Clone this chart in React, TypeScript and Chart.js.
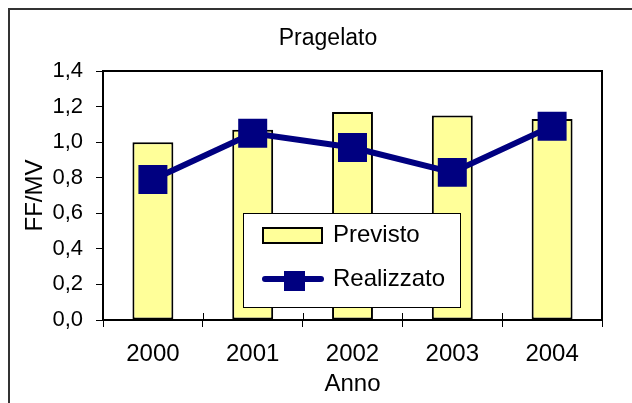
import React, { useEffect, useRef } from "react";
import { Chart, registerables } from "chart.js";

Chart.register(...registerables);

const categories = ["2000", "2001", "2002", "2003", "2004"];
const previsto = [1.0, 1.07, 1.17, 1.15, 1.13];
const realizzato = [0.79, 1.05, 0.97, 0.83, 1.09];
const yMin = 0;
const yMax = 1.4;
const yStep = 0.2;

const FONT = "'Liberation Sans', Arial, Helvetica, sans-serif";
const NAVY = "#000080";
const YELLOW = "#FFFF99";

const decorPlugin = {
  id: "decor",
  afterLayout(chart: any) {
    if (chart.titleBlock) {
      chart.titleBlock.left = 8;
      chart.titleBlock.right = 648;
    }
  },
  afterDraw(chart: any) {
    const ctx = chart.ctx;
    const ca = chart.chartArea;
    ctx.save();
    // outer chart border (extends beyond the window)
    ctx.strokeStyle = "#333";
    ctx.lineWidth = 2;
    ctx.strokeRect(9, 9, 700, 700);
    // plot frame top/right
    ctx.strokeStyle = "#000";
    ctx.lineWidth = 2;
    ctx.beginPath();
    ctx.moveTo(ca.left, ca.top);
    ctx.lineTo(ca.right, ca.top);
    ctx.lineTo(ca.right, ca.bottom);
    ctx.stroke();
    // inner half of x ticks (crossing marks)
    const n = chart.data.labels.length;
    const w = (ca.right - ca.left) / n;
    ctx.lineWidth = 1;
    ctx.beginPath();
    for (let i = 0; i <= n; i++) {
      const x = Math.round(ca.left + i * w) + 0.5;
      ctx.moveTo(x, ca.bottom - 7);
      ctx.lineTo(x, ca.bottom);
    }
    ctx.stroke();

    // legend
    const ds = chart.data.datasets;
    const barDs = ds.find((d: any) => d.type !== "line");
    const lineDs = ds.find((d: any) => d.type === "line");
    const lx = ca.left + 140;
    const ly = ca.top + 142;
    const lw = 217;
    const lh = 94;
    ctx.fillStyle = "#fff";
    ctx.fillRect(lx, ly, lw, lh);
    ctx.strokeStyle = "#000";
    ctx.lineWidth = 1;
    ctx.strokeRect(lx + 0.5, ly + 0.5, lw, lh);

    ctx.font = `24px ${FONT}`;
    ctx.textBaseline = "middle";
    ctx.textAlign = "left";
    // bar swatch
    ctx.fillStyle = barDs.backgroundColor;
    ctx.fillRect(lx + 20, ly + 15, 59, 15);
    ctx.lineWidth = 2;
    ctx.strokeStyle = "#000";
    ctx.strokeRect(lx + 20, ly + 15, 59, 15);
    ctx.fillStyle = "#000";
    ctx.fillText(barDs.label, lx + 90, ly + 22);
    // line swatch
    ctx.strokeStyle = lineDs.borderColor;
    ctx.lineWidth = 6;
    ctx.lineCap = "round";
    ctx.beginPath();
    ctx.moveTo(lx + 22, ly + 66);
    ctx.lineTo(lx + 78, ly + 66);
    ctx.stroke();
    ctx.fillStyle = lineDs.borderColor;
    ctx.fillRect(lx + 41, ly + 58, 21, 20);
    ctx.fillStyle = "#000";
    ctx.fillText(lineDs.label, lx + 90, ly + 66);
    ctx.restore();
  },
};

export default function App() {
  const ref = useRef<HTMLCanvasElement>(null);
  useEffect(() => {
    if (!ref.current) return;
    const chart = new Chart(ref.current, {
      type: "bar",
      data: {
        labels: categories,
        datasets: [
          {
            type: "line",
            label: "Realizzato",
            data: realizzato,
            borderColor: NAVY,
            backgroundColor: NAVY,
            borderWidth: 6,
            pointStyle: "rect",
            pointRadius: 20.5,
            pointHoverRadius: 20.5,
            pointBackgroundColor: NAVY,
            pointBorderWidth: 0,
            tension: 0,
            order: 0,
          } as any,
          {
            type: "bar",
            label: "Previsto",
            data: previsto,
            backgroundColor: YELLOW,
            borderColor: "#000",
            borderWidth: 2,
            borderSkipped: false,
            barPercentage: 0.41,
            categoryPercentage: 1,
            order: 1,
          } as any,
        ],
      },
      options: {
        animation: false,
        responsive: false,
        maintainAspectRatio: false,
        events: [],
        layout: { padding: { left: 0, right: 30, top: 0, bottom: 0 } },
        plugins: {
          legend: { display: false },
          tooltip: { enabled: false },
          title: {
            display: true,
            text: "Pragelato",
            color: "#000",
            font: { family: FONT, size: 23, weight: "normal" },
            padding: { top: 25, bottom: 18.4 },
          },
        },
        scales: {
          x: {
            offset: true,
            afterFit: (s: any) => {
              s.height = 83;
            },
            grid: {
              display: true,
              drawOnChartArea: false,
              drawTicks: true,
              tickLength: 7,
              color: "#000",
              lineWidth: 1,
              offset: true,
            },
            border: { display: true, color: "#000", width: 2 },
            ticks: {
              color: "#000",
              font: { family: FONT, size: 24 },
              padding: 12.6,
              maxRotation: 0,
            },
            title: {
              display: true,
              text: "Anno",
              color: "#000",
              font: { family: FONT, size: 24 },
              padding: { top: 0, bottom: 4.6 },
            },
          },
          y: {
            min: yMin,
            max: yMax,
            afterFit: (s: any) => {
              s.width = 103;
            },
            grid: {
              display: true,
              drawOnChartArea: false,
              drawTicks: true,
              tickLength: 7,
              color: "#000",
              lineWidth: 1,
            },
            border: { display: true, color: "#000", width: 2 },
            ticks: {
              stepSize: yStep,
              color: "#000",
              font: { family: FONT, size: 22 },
              padding: 13,
              callback: (v: any) => Number(v).toFixed(1).replace(".", ","),
            },
            title: {
              display: true,
              text: "FF/MV",
              color: "#000",
              font: { family: FONT, size: 24 },
              padding: { top: 20.6, bottom: 0 },
            },
          },
        },
      },
      plugins: [decorPlugin],
    });
    return () => chart.destroy();
  }, []);

  return (
    <div
      style={{
        position: "fixed",
        left: 0,
        top: 0,
        width: 632,
        height: 403,
        overflow: "hidden",
        background: "#fff",
      }}
    >
      <canvas
        ref={ref}
        width={632}
        height={403}
        style={{ display: "block", width: 632, height: 403 }}
      />
    </div>
  );
}
